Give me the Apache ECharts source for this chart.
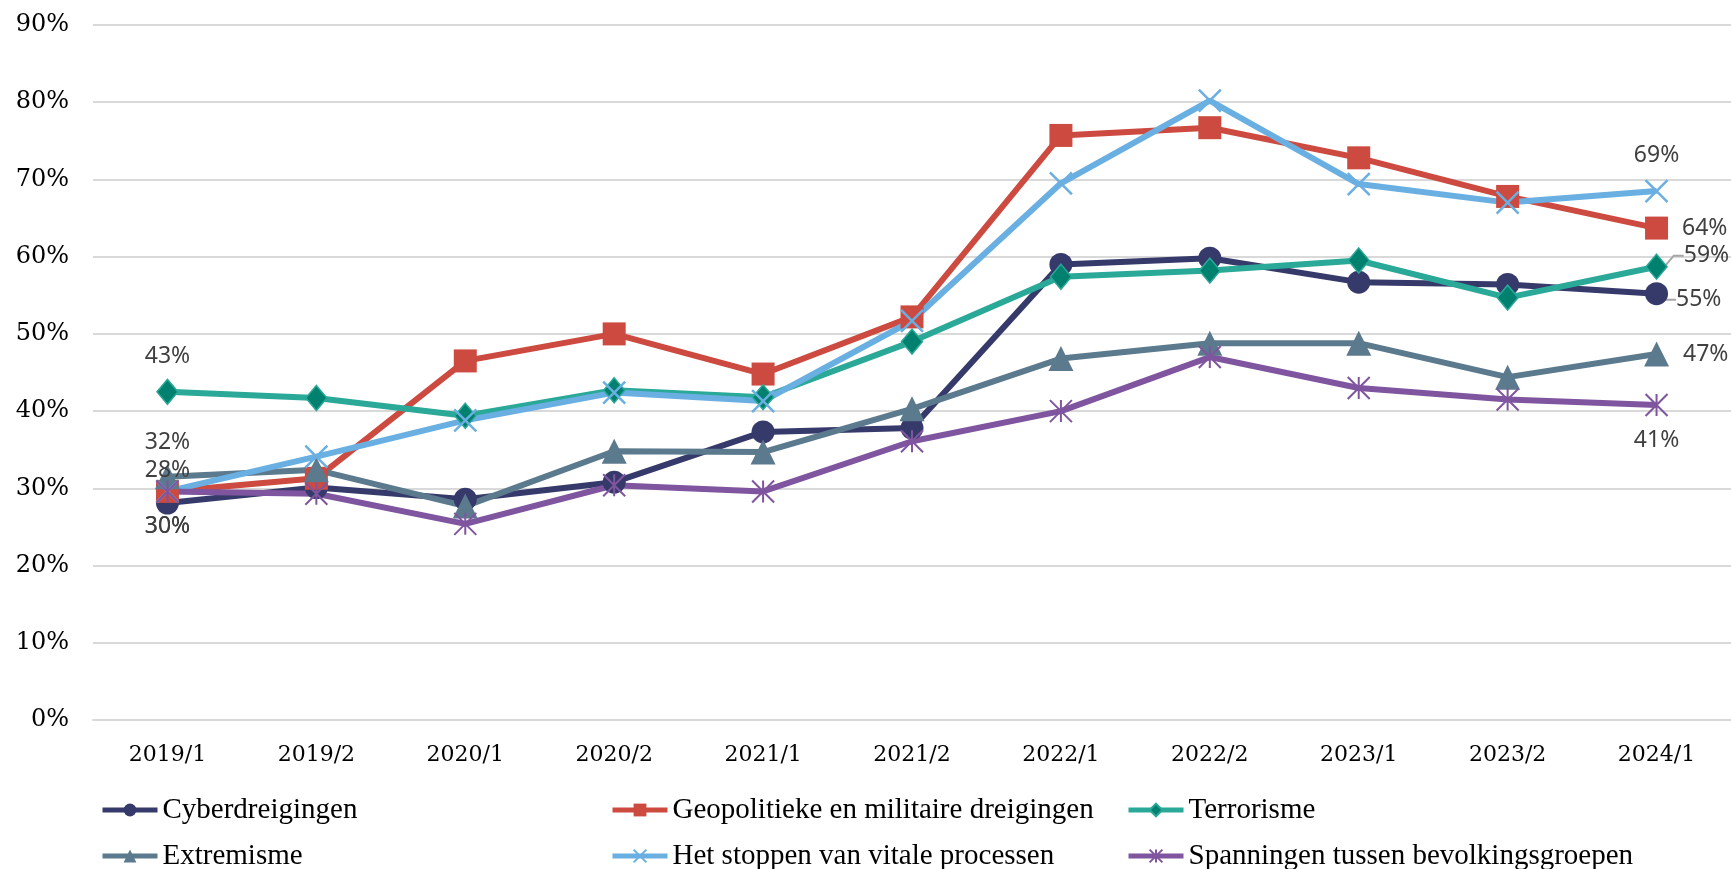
<!DOCTYPE html>
<html>
<head>
<meta charset="utf-8">
<script src="https://cdn.jsdelivr.net/npm/echarts@6/dist/echarts.min.js"></script>
<style>
html, body { margin: 0; padding: 0; background: #fff; }
#chart { width: 1731px; height: 869px; }
</style>
</head>
<body>
<div id="chart"></div>
<script>
// periods (half years)
var categories = ['2019/1', '2019/2', '2020/1', '2020/2', '2021/1', '2021/2', '2022/1', '2022/2', '2023/1', '2023/2', '2024/1'];

// share of respondents (%)
var cyber     = [28.1, 30.1, 28.6, 30.8, 37.3, 37.8, 59.0, 59.8, 56.7, 56.4, 55.2];
var geo       = [29.6, 31.3, 46.5, 50.0, 44.8, 52.2, 75.7, 76.7, 72.8, 67.8, 63.7];
var terror    = [42.5, 41.7, 39.4, 42.7, 41.8, 49.0, 57.4, 58.2, 59.5, 54.7, 58.7];
var extreem   = [31.5, 32.4, 27.7, 34.8, 34.7, 40.3, 46.8, 48.8, 48.8, 44.4, 47.4];
var vitaal    = [29.6, 34.1, 38.8, 42.4, 41.3, 51.7, 69.5, 80.2, 69.4, 67.0, 68.5];
var spanning  = [29.6, 29.3, 25.4, 30.4, 29.6, 36.1, 40.0, 47.0, 43.0, 41.5, 40.8];

var names = ['Cyberdreigingen', 'Geopolitieke en militaire dreigingen', 'Terrorisme',
             'Extremisme', 'Het stoppen van vitale processen', 'Spanningen tussen bevolkingsgroepen'];

var labelFont = { fontFamily: 'Noto Sans', fontSize: 23, color: '#404040' };

// small grey leader line for a moved label
var leader = { show: true, length2: 10, lineStyle: { color: '#a6a6a6', width: 2 } };

// only first and last points carry a label
function withLabels(values, labels, leaderAt) {
    return values.map(function (v, i) {
        if (!labels[i]) return v;
        var item = {
            value: v,
            label: Object.assign({ show: true, formatter: function (p) { return Math.round(p.value) + '%'; } }, labelFont, labels[i])
        };
        if (leaderAt === i) item.labelLine = leader;
        return item;
    });
}

function line(name, data, color, symbol, size, extra) {
    var s = {
        name: name,
        type: 'line',
        data: data,
        symbol: symbol,
        symbolSize: size,
        showAllSymbol: true,
        lineStyle: { color: color, width: 6 },
        itemStyle: { color: color },
        emphasis: { disabled: true },
        animation: false
    };
    return Object.assign(s, extra || {});
}

var crossPath = 'path://M0,0L10,10M10,0L0,10';
var starPath = 'path://M5,0L5,10M0,0L10,10M10,0L0,10';

var myChart = echarts.init(document.getElementById('chart'));

var legendBase = {
    orient: 'vertical',
    top: 790,
    height: 200,
    itemWidth: 55,
    itemHeight: 16,
    itemGap: 16,
    selectedMode: false,
    lineStyle: { width: 5 },
    textStyle: { fontFamily: 'Liberation Serif', fontSize: 29, color: '#000', lineHeight: 30 }
};

var option = {
    backgroundColor: '#fff',
    grid: { left: 93, right: 0, top: 25, bottom: 149 },
    legend: [
        Object.assign({ left: 95, data: [names[0], names[3]] }, legendBase),
        Object.assign({ left: 605, data: [names[1], names[4]] }, legendBase),
        Object.assign({ left: 1121, data: [names[2], names[5]] }, legendBase)
    ],
    xAxis: {
        type: 'category',
        data: categories,
        axisLine: { show: true, lineStyle: { color: '#d9d9d9', width: 2 } },
        axisTick: { show: false },
        axisLabel: { fontFamily: 'DejaVu Serif', fontSize: 22, color: '#000', margin: 24 }
    },
    yAxis: {
        type: 'value',
        min: 0,
        max: 90,
        interval: 10,
        axisLine: { show: false },
        axisTick: { show: false },
        axisLabel: { formatter: '{value}%', fontFamily: 'DejaVu Serif', fontSize: 24, color: '#000', margin: 24 },
        splitLine: { lineStyle: { color: '#d9d9d9', width: 2 } }
    },
    series: [
        line(names[0], withLabels(cyber, { 0: { position: 'top', distance: 10 }, 10: { position: 'right', distance: 8 } }, 10),
            '#363a6a', 'circle', 23, {
                labelLayout: function (p) { return p.dataIndex === 10 ? { dy: 6 } : {}; }
            }),
        line(names[1], withLabels(geo, { 0: { position: 'bottom', distance: 12 }, 10: { position: 'right', distance: 14 } }),
            '#cc4a3f', 'rect', 23),
        line(names[2], withLabels(terror, { 0: { position: 'top', distance: 11 }, 10: { position: 'right', distance: 16 } }, 10),
            '#2aa898', 'diamond', [21, 25], {
                itemStyle: { color: '#00806f', borderColor: '#2aa898', borderWidth: 1.5 },
                labelLayout: function (p) { return p.dataIndex === 10 ? { dy: -11 } : {}; }
            }),
        line(names[3], withLabels(extreem, { 0: { position: 'top', distance: 10 }, 10: { position: 'right', distance: 14 } }),
            '#5c7a8e', 'triangle', 25),
        line(names[4], withLabels(vitaal, { 10: { position: 'top', distance: 12 } }),
            '#6aafe2', crossPath, 22, { itemStyle: { color: '#6aafe2', borderColor: '#6aafe2', borderWidth: 2.5 } }),
        line(names[5], withLabels(spanning, { 0: { position: 'bottom', distance: 12 }, 10: { position: 'bottom', distance: 12 } }),
            '#7f559f', starPath, 22, { itemStyle: { color: '#7f559f', borderColor: '#7f559f', borderWidth: 2 } })
    ]
};

myChart.setOption(option);
</script>
</body>
</html>
